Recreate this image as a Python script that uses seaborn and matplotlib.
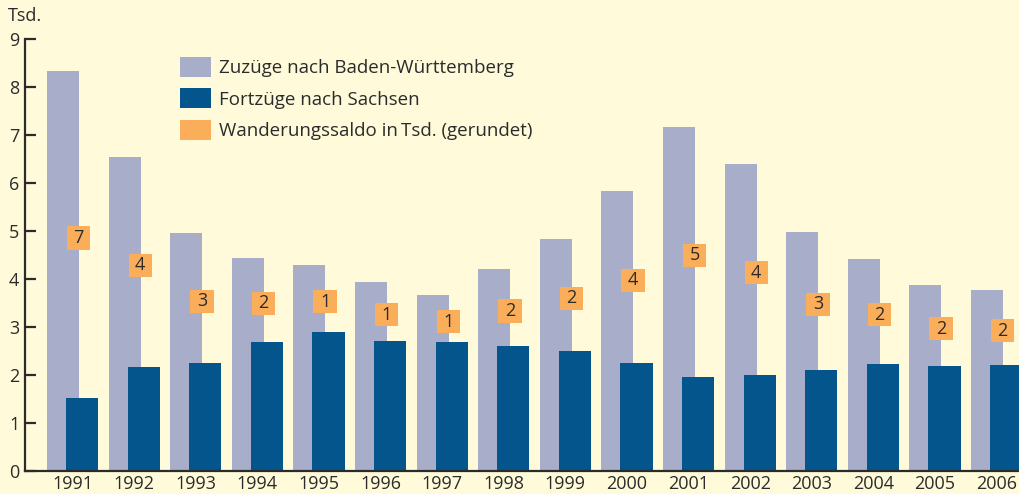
import numpy as np
import pandas as pd
import matplotlib
matplotlib.use("Agg")
import matplotlib.pyplot as plt
import seaborn as sns
from matplotlib.patches import Patch

# Werte in Tsd.
years = [1991, 1992, 1993, 1994, 1995, 1996, 1997, 1998,
         1999, 2000, 2001, 2002, 2003, 2004, 2005, 2006]
zuzuege = [8.33, 6.54, 4.96, 4.44, 4.29, 3.94, 3.67, 4.21,
           4.83, 5.83, 7.17, 6.40, 4.98, 4.42, 3.875, 3.77]
fortzuege = [1.52, 2.17, 2.25, 2.69, 2.90, 2.71, 2.69, 2.60,
             2.50, 2.25, 1.96, 2.00, 2.10, 2.23, 2.19, 2.21]
saldo = [7, 4, 3, 2, 1, 1, 1, 2, 2, 4, 5, 4, 3, 2, 2, 2]

legend_labels = ["Zuzüge nach Baden-Württemberg",
                 "Fortzüge nach Sachsen",
                 "Wanderungssaldo in\u2009Tsd. (gerundet)"]

BG = "#FFFBDA"
C_ZU = "#A8AECA"
C_FORT = "#04558B"
C_SALDO = "#FBAE5A"
INK = "#2B2B2B"

sns.set_theme(style="white")
plt.rcParams["font.family"] = ["Open Sans", "DejaVu Sans"]

df = pd.DataFrame({"year": years, "zu": zuzuege, "fort": fortzuege, "saldo": saldo})
off = 0.155
df["i"] = np.arange(len(df))
df["x_zu"] = df["i"] - off
df["x_fort"] = df["i"] + off
df["x_lab"] = df["i"] + 0.1
df["y_lab"] = (df["zu"] + df["fort"]) / 2 - 0.07

fig = plt.figure(figsize=(10.2, 4.94), dpi=100, facecolor=BG)
ax = fig.add_axes([25 / 1020, 23 / 494, 995 / 1020, 432 / 494])
ax.set_facecolor(BG)

sns.barplot(data=df, x="x_zu", y="zu", native_scale=True, width=0.52,
            color=C_ZU, saturation=1, errorbar=None, linewidth=0, ax=ax)
sns.barplot(data=df, x="x_fort", y="fort", native_scale=True, width=0.52,
            color=C_FORT, saturation=1, errorbar=None, linewidth=0, ax=ax)
sns.scatterplot(data=df, x="x_lab", y="y_lab", marker="s", s=280,
                color=C_SALDO, edgecolor="none", linewidth=0, ax=ax, zorder=3)
for r in df.itertuples():
    ax.text(r.x_lab, r.y_lab, str(r.saldo), ha="center", va="center",
            fontsize=13, color=INK, zorder=4)

ax.set_xlim(-off - 38 / 61.6, -off + 957 / 61.6)
ax.set_ylim(0, 9)
ax.set_xlabel("")
ax.set_ylabel("")
ax.set_yticks(range(10))
ax.set_xticks(df["i"])
ax.set_xticklabels([str(y) for y in years])

for s in ["top", "right"]:
    ax.spines[s].set_visible(False)
for s in ["left", "bottom"]:
    ax.spines[s].set_color(INK)
    ax.spines[s].set_linewidth(1.6)
ax.tick_params(axis="y", direction="in", length=8, width=1.6, color=INK,
               labelsize=13, labelcolor=INK, pad=4, left=True)
ax.tick_params(axis="x", length=0, labelsize=13, labelcolor=INK, pad=3)

fig.text(8 / 1020, 1 - 16 / 494, "Tsd.", fontsize=13, color=INK, va="center", ha="left")

handles = [Patch(facecolor=c, edgecolor="none") for c in (C_ZU, C_FORT, C_SALDO)]
fig.legend(handles, legend_labels, loc="upper left",
           bbox_to_anchor=(180 / 1020, 1 - 57 / 494), frameon=False,
           fontsize=13.5, handlelength=1.65, handleheight=1.25,
           handletextpad=0.45, labelspacing=0.6, borderpad=0, borderaxespad=0,
           labelcolor=INK)

fig.savefig("out.png", dpi=100, facecolor=BG)
